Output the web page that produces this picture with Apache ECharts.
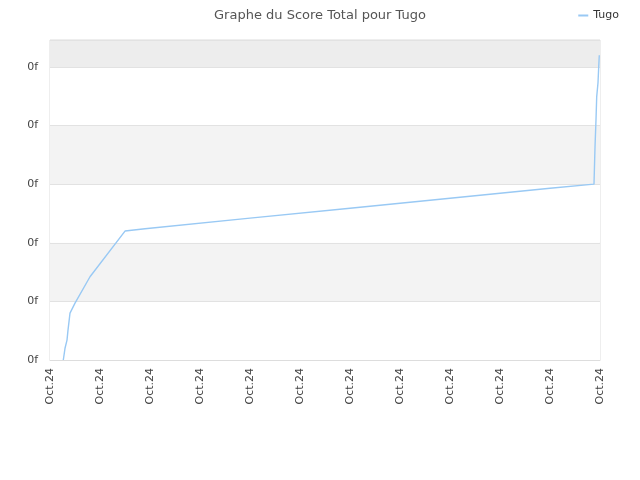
<!DOCTYPE html>
<html><head><meta charset="utf-8">
<script src="https://cdn.jsdelivr.net/npm/echarts@6/dist/echarts.min.js"></script>
<style>html,body{margin:0;padding:0;background:#fff}#c{width:640px;height:480px}</style>
</head><body><div id="c"></div>
<script>
var seriesName = 'Tugo';
var xLabel = 'Oct.24';
var yLabel = '0f';
var xVals = [0.266, 0.30, 0.34, 0.36, 0.40, 0.50, 0.80, 1.50, 1.90, 4.0, 6.0, 8.0, 10.0, 10.88, 10.886, 10.90, 10.92, 10.934, 10.96, 10.974, 10.986, 11.0];
var yVals = [0.00, 0.20, 0.34, 0.51, 0.80, 0.97, 1.42, 2.20, 2.24, 2.42, 2.59, 2.76, 2.93, 3.00, 3.19, 3.63, 4.10, 4.49, 4.73, 5.00, 5.20, 5.20];
var pts = xVals.map(function(x, i){ return [x, yVals[i]]; });

var chart = echarts.init(document.getElementById('c'));
chart.setOption({
  animation: false,
  title: { text: 'Graphe du Score Total pour Tugo', left: 'center', top: 4,
    textStyle: { fontFamily: 'DejaVu Sans', fontSize: 13, fontWeight: 'normal', color: '#555' } },
  legend: { right: 16, top: 5, itemWidth: 10, itemHeight: 2, itemGap: 8,
    icon: 'rect',
    textStyle: { fontFamily: 'DejaVu Sans', fontSize: 11, color: '#333' },
    data: [seriesName] },
  grid: { left: 50, right: 40, top: 40, bottom: 120, show: true, borderColor: '#dddddd', borderWidth: 1 },
  xAxis: { type: 'value', min: 0, max: 11, interval: 1,
    axisLine: { show: true, lineStyle: { color: '#dddddd' } },
    axisTick: { show: false },
    splitLine: { show: false },
    axisLabel: { rotate: 90, margin: 8, formatter: function(){ return xLabel; },
      fontFamily: 'DejaVu Sans', fontSize: 11, color: '#444' } },
  yAxis: { type: 'value', min: 0, max: 5.46, interval: 1,
    axisLine: { show: false }, axisTick: { show: false },
    splitLine: { show: true, lineStyle: { color: '#e2e2e2' } },
    splitArea: { show: true, areaStyle: { color: ['#ffffff', '#f3f3f3', '#ffffff', '#f3f3f3', '#ffffff', '#ededed'] } },
    axisLabel: { formatter: function(){ return yLabel; }, margin: 12, showMaxLabel: false,
      fontFamily: 'DejaVu Sans', fontSize: 11, color: '#444' } },
  series: [{ name: seriesName, type: 'line', data: pts, showSymbol: false, symbol: 'none',
    lineStyle: { color: '#99c9f4', width: 1.4 }, itemStyle: { color: '#99c9f4' } }]
});
</script></body></html>
